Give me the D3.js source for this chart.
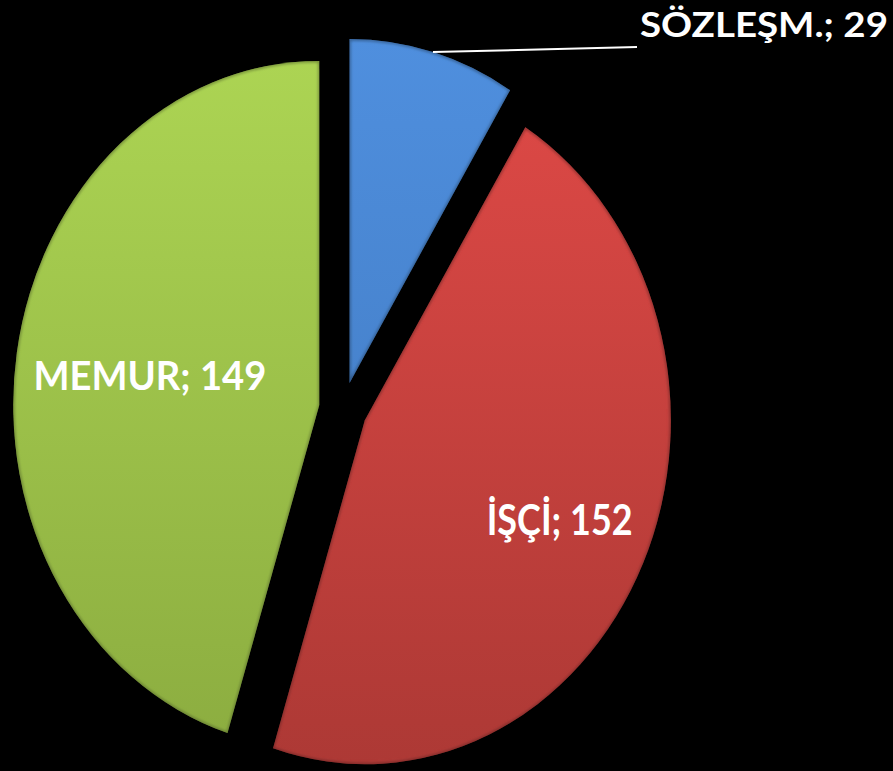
<!DOCTYPE html>
<html>
<head>
<meta charset="utf-8">
<script src="https://cdn.jsdelivr.net/npm/d3@7"></script>
<style>
  html, body { margin: 0; padding: 0; background: #000; }
  svg { display: block; }
</style>
</head>
<body>
<div id="main"></div>
<script>
// chart data
var categories = ["SÖZLEŞM.", "İŞÇİ", "MEMUR"];
var counts = [29, 152, 149];
var sliceColors = ["#4b88d2", "#d24542", "#a3c94f"];
var sliceColorsDark = ["#3f77bd", "#ad3935", "#8cad40"];

var width = 893, height = 771;
var rx = 306, ry = 344;            // pie is a bit taller than wide
var center = [343, 409];
var explode = 24;

var svg = d3.select("#main")
  .append("svg")
    .attr("width", width)
    .attr("height", height);

svg.append("rect").attr("width", width).attr("height", height).attr("fill", "#000");

var defs = svg.append("defs");

var pie = d3.pie().sort(null).value(function (d) { return d; });
var arcs = pie(counts);

var arc = d3.arc().innerRadius(0).outerRadius(rx);

// vertical gradients, lighter on top
categories.forEach(function (c, i) {
  var g = defs.append("linearGradient")
    .attr("id", "grad" + i)
    .attr("gradientUnits", "userSpaceOnUse")
    .attr("x1", 0).attr("y1", -rx).attr("x2", 0).attr("y2", rx);
  g.append("stop").attr("offset", "0%").attr("stop-color", d3.color(sliceColors[i]).brighter(0.15));
  g.append("stop").attr("offset", "100%").attr("stop-color", sliceColorsDark[i]);
});

defs.append("filter").attr("id", "soft")
  .append("feGaussianBlur").attr("stdDeviation", 1.6);

function sliceOffset(a) {
  var mid = (a.startAngle + a.endAngle) / 2;
  return [explode * Math.sin(mid), -explode * Math.cos(mid) * ry / rx];
}

var slices = svg.selectAll(".slice")
  .data(arcs)
  .enter()
  .append("g")
    .attr("class", "slice")
    .attr("transform", function (d) {
      var o = sliceOffset(d);
      return "translate(" + (center[0] + o[0]) + "," + (center[1] + o[1]) + ") scale(1," + (ry / rx) + ")";
    });

slices.each(function (d, i) {
  var g = d3.select(this);
  g.append("clipPath").attr("id", "clip" + i)
    .append("path").attr("d", arc(d));
  g.append("path")
    .attr("d", arc(d))
    .attr("fill", "url(#grad" + i + ")");
  // bevel highlight along the edges
  g.append("path")
    .attr("d", arc(d))
    .attr("fill", "none")
    .attr("stroke", d3.color(sliceColors[i]).brighter(0.6))
    .attr("stroke-width", 4)
    .attr("stroke-opacity", 0.25)
    .attr("clip-path", "url(#clip" + i + ")")
    .attr("filter", "url(#soft)");
  // soft dark rim
  g.append("path")
    .attr("d", arc(d))
    .attr("fill", "none")
    .attr("stroke", "#000")
    .attr("stroke-width", 2.5)
    .attr("stroke-opacity", 0.4)
    .attr("clip-path", "url(#clip" + i + ")")
    .attr("filter", "url(#soft)");
});

// labels
var labelFactor = [null, 0.70, 0.56];
var labelSize = [34, 42, 41];
var labelWidth = [248, 146, 233];

arcs.forEach(function (d, i) {
  var o = sliceOffset(d);
  var cx = center[0] + o[0], cy = center[1] + o[1];
  var mid = (d.startAngle + d.endAngle) / 2;
  var text = categories[i] + "; " + counts[i];
  var x, y, anchor;
  if (labelFactor[i] == null) {
    // outside label with leader line from the arc edge
    var sx = cx + rx * Math.sin(mid), sy = cy - ry * Math.cos(mid);
    svg.append("line")
      .attr("x1", sx).attr("y1", sy)
      .attr("x2", 637).attr("y2", 47)
      .attr("stroke", "#fff")
      .attr("stroke-width", 2);
    x = 640; y = 37; anchor = "start";
  } else {
    x = cx + labelFactor[i] * rx * Math.sin(mid);
    y = cy - labelFactor[i] * ry * Math.cos(mid) + labelSize[i] * 0.34;
    anchor = "middle";
  }
  svg.append("text")
    .attr("x", x)
    .attr("y", y)
    .attr("text-anchor", anchor)
    .attr("font-family", "Lato, 'Open Sans', sans-serif")
    .attr("font-weight", "bold")
    .attr("font-size", labelSize[i])
    .attr("fill", "#fff")
    .attr("textLength", labelWidth[i])
    .attr("lengthAdjust", "spacingAndGlyphs")
    .text(text);
});
</script>
</body>
</html>
